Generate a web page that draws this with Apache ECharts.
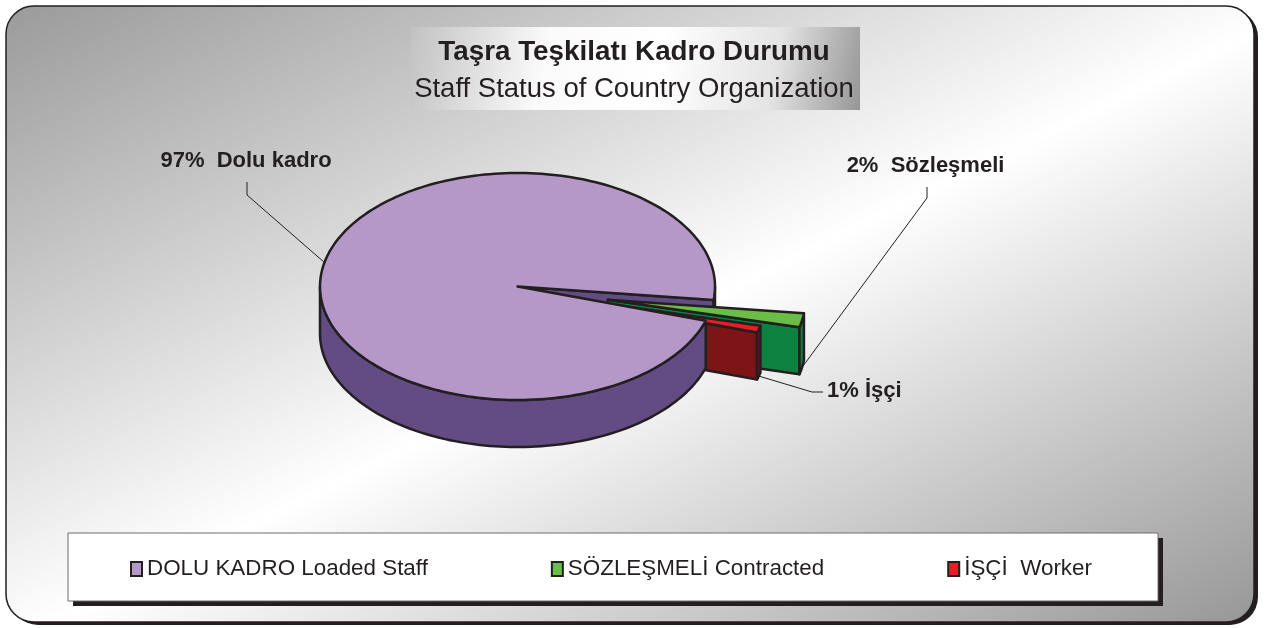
<!DOCTYPE html>
<html>
<head>
<meta charset="utf-8">
<script src="https://cdn.jsdelivr.net/npm/echarts@6/dist/echarts.min.js"></script>
<style>
  html, body { margin: 0; padding: 0; background: #ffffff; }
  #chart { width: 1268px; height: 628px; }
</style>
</head>
<body>
<div id="chart"></div>
<script>
// ---------- DATA ----------
const categories = ['Dolu kadro', 'Sözleşmeli', 'İşçi'];
const legendNames = ['DOLU KADRO Loaded Staff', 'SÖZLEŞMELİ Contracted', 'İŞÇİ  Worker'];
const values = [97, 2, 1];
const labelSeparators = ['  ', '  ', ' '];
const titleText = 'Taşra Teşkilatı Kadro Durumu';
const subtitleText = 'Staff Status of Country Organization';

// ---------- LAYOUT / STYLE ----------
const FONT = '"Liberation Sans", Arial, Helvetica, sans-serif';
const INK = '#231f20';
const PIE = { cx: 517.5, cy: 286.5, rx: 197.5, ry: 113.5, depth: 47, startAngle: -17.6, explodeTilt: 1.4 };
const explode = [0, 0.465, 0.27];
const topColors = ['#b698c8', '#6abd45', '#ed1c24'];
const sideColors = ['#624c83', '#0c8140', '#7f1418'];
const labelLayout = [
  { x: 246, y: 161, align: 'center', elbow: [247, 195], end: [247, 182] },
  { x: 925.5, y: 166, align: 'center', elbow: [927, 198], end: [927, 187] },
  { x: 827, y: 391, align: 'left', elbow: [812, 392], end: [823, 392] }
];

// ---------- pseudo-3D pie geometry built from the values ----------
let GEO = null;
function buildGeometry() {
  if (GEO) return GEO;
  const total = values.reduce((s, v) => s + v, 0);
  const rad = d => d * Math.PI / 180;
  const faces = [];
  const anchors = [];
  let cur = PIE.startAngle;
  values.forEach((v, i) => {
    const sweep = v / total * 360;
    const a1 = cur, a0 = cur - sweep; // clockwise layout
    cur = a0;
    const midDeg = (a0 + a1) / 2, mid = rad(midDeg);
    const ox = PIE.cx + explode[i] * PIE.rx * Math.cos(mid);
    const oy = PIE.cy - explode[i] * PIE.ry * Math.sin(mid) * PIE.explodeTilt;
    const P = (t, dz) => [ox + PIE.rx * Math.cos(rad(t)), oy - PIE.ry * Math.sin(rad(t)) + (dz || 0)];
    const arc = (t0, t1, dz) => {
      const n = Math.max(2, Math.ceil((t1 - t0) / 1.5));
      const pts = [];
      for (let k = 0; k <= n; k++) pts.push(P(t0 + (t1 - t0) * k / n, dz));
      return pts;
    };
    const apex = [ox, oy], apexB = [ox, oy + PIE.depth];
    const maxY = pts => Math.max.apply(null, pts.map(p => p[1]));
    if (Math.cos(rad(a0)) > 0) {
      const p = P(a0), pb = P(a0, PIE.depth);
      faces.push({ slice: i, kind: 0, key: maxY([apex, p]), pts: [apex, p, pb, apexB], fill: sideColors[i] });
    }
    if (Math.cos(rad(a1)) < 0) {
      const p = P(a1), pb = P(a1, PIE.depth);
      faces.push({ slice: i, kind: 0, key: maxY([apex, p]), pts: [apex, p, pb, apexB], fill: sideColors[i] });
    }
    for (let k = Math.floor(a0 / 360) - 1; k <= Math.ceil(a1 / 360) + 1; k++) {
      const s = Math.max(a0, 360 * k - 180), e = Math.min(a1, 360 * k);
      if (e > s) {
        const top = arc(s, e), bot = arc(s, e, PIE.depth).reverse();
        faces.push({ slice: i, kind: 1, key: maxY(top), pts: top.concat(bot), fill: sideColors[i] });
      }
    }
    const topPts = [apex].concat(arc(a0, a1));
    faces.push({ slice: i, kind: 2, key: 10000 + maxY(topPts), pts: topPts, fill: topColors[i] });
    anchors.push(Math.sin(mid) >= 0 ? P(midDeg) : P(midDeg, PIE.depth));
  });
  faces.sort((a, b) => (a.key - b.key) || (a.kind - b.kind));
  faces.forEach((f, r) => { f.z2 = r + 1; });
  GEO = { faces, anchors, total };
  return GEO;
}

function renderSlice(i) {
  const geo = buildGeometry();
  const children = geo.faces.filter(f => f.slice === i).map(f => ({
    type: 'polygon',
    z2: f.z2,
    shape: { points: f.pts },
    style: { fill: f.fill, stroke: INK, lineWidth: 2.5, lineJoin: 'round' }
  }));
  const L = labelLayout[i];
  children.push({
    type: 'polyline',
    z2: 900,
    shape: { points: [geo.anchors[i], L.elbow, L.end] },
    style: { stroke: INK, lineWidth: 1, fill: null }
  });
  const pct = Math.round(values[i] / geo.total * 100);
  children.push({
    type: 'text',
    z2: 1000,
    style: {
      x: L.x, y: L.y,
      text: pct + '%' + labelSeparators[i] + categories[i],
      fill: INK, fontSize: 22, fontWeight: 'bold', fontFamily: FONT,
      align: L.align, verticalAlign: 'middle'
    }
  });
  return { type: 'group', children };
}

function antiDiagonalGradient(w, h, stops) {
  const D2 = w * w + h * h;
  const a = h * h / D2, b = w * w / D2;
  return { type: 'linear', x: 0.5 - a, y: 0.5 - b, x2: 0.5 + a, y2: 0.5 + b, colorStops: stops, global: false };
}

const chart = echarts.init(document.getElementById('chart'), null, { renderer: 'canvas' });
chart.setOption({
  animation: false,
  backgroundColor: '#ffffff',
  graphic: [
    { // frame shadow
      type: 'rect', z: 0, z2: 0,
      shape: { x: 10, y: 9, width: 1248, height: 616, r: 28 },
      style: { fill: INK }
    },
    { // frame
      type: 'rect', z: 0, z2: 1,
      shape: { x: 6, y: 6, width: 1248, height: 616, r: 28 },
      style: {
        fill: antiDiagonalGradient(1248, 616, [
          { offset: 0, color: '#9a9a9a' },
          { offset: 0.52, color: '#ffffff' },
          { offset: 1, color: '#979797' }
        ]),
        stroke: INK, lineWidth: 1.5
      }
    },
    { // title box
      type: 'rect', z: 0, z2: 2,
      shape: { x: 411, y: 27, width: 449, height: 83 },
      style: {
        fill: { type: 'linear', x: 0, y: 0, x2: 1, y2: 1, colorStops: [
          { offset: 0, color: '#c2c2c2' },
          { offset: 0.3, color: '#fafafa' },
          { offset: 0.55, color: '#ffffff' },
          { offset: 0.8, color: '#e4e4e4' },
          { offset: 1, color: '#969696' }
        ] }
      }
    },
    { // legend box shadow
      type: 'rect', z: 0, z2: 2,
      shape: { x: 73, y: 538, width: 1090, height: 68 },
      style: { fill: INK }
    },
    { // legend box
      type: 'rect', z: 0, z2: 3,
      shape: { x: 68, y: 533, width: 1090, height: 68 },
      style: { fill: '#ffffff', stroke: '#6d6d6d', lineWidth: 1 }
    }
  ],
  title: {
    text: titleText,
    subtext: subtitleText,
    left: 'center',
    top: 37,
    padding: 0,
    itemGap: 7,
    textStyle: { fontFamily: FONT, fontSize: 27.8, fontWeight: 'bold', color: INK, lineHeight: 30 },
    subtextStyle: { fontFamily: FONT, fontSize: 27.5, fontWeight: 'normal', color: INK, lineHeight: 30 }
  },
  legend: {
    data: legendNames.map((n, i) => ({ name: n, itemStyle: { color: topColors[i], borderColor: INK, borderWidth: 2 } })),
    left: 130,
    top: 557,
    padding: 0,
    itemGap: 123,
    itemWidth: 11,
    itemHeight: 14,
    icon: 'rect',
    selectedMode: false,
    textStyle: { fontFamily: FONT, fontSize: 22.4, color: INK, lineHeight: 24 }
  },
  series: values.map((v, i) => ({
    type: 'custom',
    name: legendNames[i],
    coordinateSystem: 'none',
    data: [[v]],
    z: 2,
    silent: true,
    itemStyle: { color: topColors[i], borderColor: INK, borderWidth: 2 },
    renderItem: () => renderSlice(i)
  }))
});
</script>
</body>
</html>
